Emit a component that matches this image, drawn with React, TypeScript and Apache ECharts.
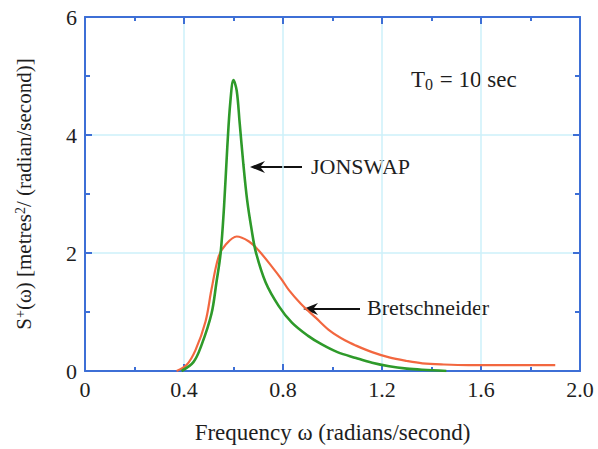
import React, { useEffect, useRef } from "react";
import * as echarts from "echarts";

// JONSWAP spectrum
const jonswapOmega = [0.39, 0.438, 0.47, 0.511, 0.531, 0.548, 0.562, 0.575, 0.587, 0.6, 0.613, 0.625, 0.64, 0.655, 0.673, 0.69, 0.73, 0.783, 0.836, 0.9, 0.957, 1.02, 1.095, 1.16, 1.229, 1.3, 1.363, 1.46];
const jonswapS = [0.0, 0.15, 0.43, 0.97, 1.5, 2.0, 2.8, 3.8, 4.55, 4.93, 4.75, 4.2, 3.5, 2.9, 2.4, 2.02, 1.5, 1.1, 0.82, 0.6, 0.45, 0.32, 0.22, 0.14, 0.08, 0.04, 0.02, 0.0];

// Bretschneider spectrum
const bretOmega = [0.37, 0.41, 0.446, 0.487, 0.511, 0.54, 0.568, 0.613, 0.661, 0.7, 0.755, 0.795, 0.824, 0.872, 0.933, 0.99, 1.05, 1.095, 1.16, 1.229, 1.3, 1.363, 1.45, 1.55, 1.7, 1.9];
const bretS = [0.0, 0.1, 0.35, 0.84, 1.38, 1.94, 2.14, 2.28, 2.2, 2.05, 1.77, 1.55, 1.37, 1.14, 0.9, 0.68, 0.52, 0.43, 0.32, 0.23, 0.17, 0.13, 0.11, 0.1, 0.1, 0.1];

const xTicks = [0, 0.4, 0.8, 1.2, 1.6, 2.0];
const yTicks = [0, 2, 4, 6];

const FONT = "'Liberation Serif', 'Times New Roman', serif";
const AXIS_BLUE = "#3d6fd6";
const GRID_CYAN = "#cdf0fa";
const TEXT = "#1e1e1e";

export default function App() {
  const ref = useRef<HTMLDivElement>(null);

  useEffect(() => {
    if (!ref.current) return;
    const chart = echarts.init(ref.current, null, { renderer: "svg" });

    const mkX = (top: boolean) => ({
      type: "value",
      min: 0,
      max: 2,
      interval: 0.4,
      position: top ? "top" : "bottom",
      name: top ? "" : "Frequency ω (radians/second)",
      nameLocation: "middle",
      nameGap: 50,
      nameTextStyle: { fontFamily: FONT, fontSize: 23, color: TEXT },
      axisLine: { show: true, onZero: false, lineStyle: { color: AXIS_BLUE, width: 2 } },
      axisTick: { show: true, inside: true, length: 7, lineStyle: { color: AXIS_BLUE, width: 2 } },
      minorTick: { show: true, splitNumber: 2, length: 4, lineStyle: { color: AXIS_BLUE, width: 2 } },
      axisLabel: {
        show: !top,
        fontFamily: FONT,
        fontSize: 22,
        color: TEXT,
        margin: 7,
        formatter: (v: number) => {
          const t = xTicks.find((k) => Math.abs(k - v) < 1e-6);
          if (t === undefined) return "";
          return t === 0 ? "0" : t.toFixed(1);
        },
      },
      splitLine: { show: !top, lineStyle: { color: GRID_CYAN, width: 1.5 } },
    });

    const mkY = (right: boolean) => ({
      type: "value",
      min: 0,
      max: 6,
      interval: 2,
      position: right ? "right" : "left",
      name: right ? "" : "S{sup|+}(ω) [metres{sup|2}/ (radian/second)]",
      nameLocation: "middle",
      nameGap: 50,
      nameRotate: 90,
      nameTextStyle: {
        fontFamily: FONT,
        fontSize: 21,
        color: TEXT,
        rich: {
          sup: { fontFamily: FONT, fontSize: 14, color: TEXT, verticalAlign: "top", padding: [0, 0, 8, 0] },
        },
      },
      axisLine: { show: true, onZero: false, lineStyle: { color: AXIS_BLUE, width: 2 } },
      axisTick: { show: true, inside: true, length: 7, lineStyle: { color: AXIS_BLUE, width: 2 } },
      minorTick: { show: true, splitNumber: 2, length: 5, lineStyle: { color: AXIS_BLUE, width: 2 } },
      axisLabel: {
        show: !right,
        fontFamily: FONT,
        fontSize: 22,
        color: TEXT,
        margin: 8,
        formatter: (v: number) => (yTicks.includes(v) ? String(v) : ""),
      },
      splitLine: { show: !right, lineStyle: { color: GRID_CYAN, width: 1.5 } },
    });

    const arrow = (tipX: number, tipY: number, tailX: number) => ({
      type: "polygon",
      shape: {
        points: [
          [tipX, tipY],
          [tipX + 15, tipY - 6],
          [tipX + 11, tipY - 1],
          [tailX, tipY - 1],
          [tailX, tipY + 1],
          [tipX + 11, tipY + 1],
          [tipX + 15, tipY + 6],
        ],
      },
      style: { fill: "#111" },
    });

    chart.setOption({
      animation: false,
      backgroundColor: "#ffffff",
      grid: { left: 85, right: 18, top: 17, bottom: 72, containLabel: false },
      xAxis: [mkX(false), mkX(true)],
      yAxis: [mkY(false), mkY(true)],
      series: [
        {
          name: "JONSWAP",
          type: "line",
          data: jonswapOmega.map((w, i) => [w, jonswapS[i]]),
          showSymbol: false,
          smooth: 0.35,
          lineStyle: { color: "#2e9a2a", width: 2.6 },
          z: 3,
        },
        {
          name: "Bretschneider",
          type: "line",
          data: bretOmega.map((w, i) => [w, bretS[i]]),
          showSymbol: false,
          smooth: 0.35,
          lineStyle: { color: "#f2673f", width: 2.2 },
          z: 2,
        },
      ],
      graphic: [
        {
          type: "text",
          left: 411,
          top: 68,
          style: {
            text: "T{sub|0} = 10 sec",
            fontFamily: FONT,
            fontSize: 23,
            fill: TEXT,
            rich: { sub: { fontFamily: FONT, fontSize: 16, fill: TEXT, verticalAlign: "bottom", padding: [10, 1, 0, 0] } },
          },
        },
        {
          type: "text",
          left: 311,
          top: 155,
          style: { text: "JONSWAP", fontFamily: FONT, fontSize: 22, fill: TEXT },
        },
        arrow(250, 167, 302),
        {
          type: "text",
          left: 367,
          top: 296,
          style: { text: "Bretschneider", fontFamily: FONT, fontSize: 22, fill: TEXT },
        },
        arrow(303, 309, 360),
      ],
    });

    return () => chart.dispose();
  }, []);

  return (
    <div
      ref={ref}
      style={{ position: "fixed", left: 0, top: 0, width: 598, height: 449 }}
    />
  );
}
